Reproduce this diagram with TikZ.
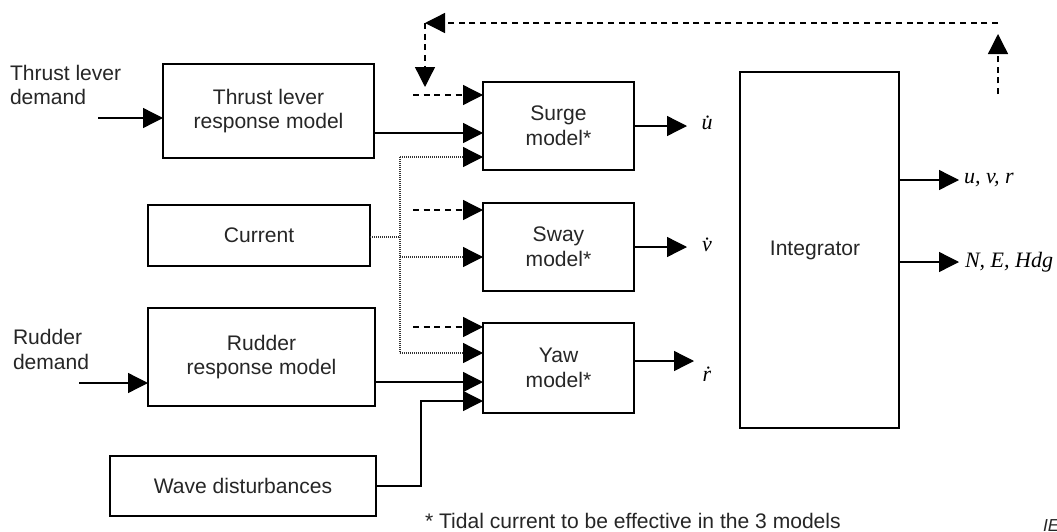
\documentclass[tikz,border=0pt]{standalone}
\usepackage{fontspec}
\setmainfont{Liberation Sans}
\newfontfamily\serifit{Liberation Serif}
\usetikzlibrary{arrows.meta,calc}
\begin{document}
\begin{tikzpicture}[x=0.75pt,y=-0.75pt,
  font=\fontsize{15.8pt}{18.4pt}\selectfont,
  box/.style={draw=black, line width=1.1pt, inner sep=0pt, outer sep=0pt, align=center, text=black!85},
  lbl/.style={inner sep=0pt, outer sep=0pt, text=black!85},
  mlbl/.style={inner sep=0pt, outer sep=0pt, text=black, font=\fontsize{16.5pt}{19pt}\selectfont\serifit\itshape},
  conn/.style={line width=1pt, -{Triangle[length=15pt,width=15pt]}},
  dashconn/.style={conn, dash pattern=on 4.5pt off 3.5pt},
  dotline/.style={line width=1pt, dash pattern=on 0.8pt off 0.7pt, black!80},
  dotconn/.style={dotline, -{Triangle[length=15pt,width=15pt,color=black]}},
]
\useasboundingbox (0,0) rectangle (1057,532);
\fill[white] (0,0) rectangle (1057,532);

% boxes
\node[box, minimum width=211*0.75pt, minimum height=94*0.75pt] (thrust) at (268.5,111) {Thrust lever\\response model};
\node[box, minimum width=222*0.75pt, minimum height=61*0.75pt] (current) at (259,235.5) {Current};
\node[box, minimum width=227*0.75pt, minimum height=98*0.75pt] (rudder) at (261.5,357) {Rudder\\response model};
\node[box, minimum width=266*0.75pt, minimum height=60*0.75pt] (wave) at (243,486) {Wave disturbances};
\node[box, minimum width=151*0.75pt, minimum height=88*0.75pt] (surge) at (558.5,126) {Surge\\model*};
\node[box, minimum width=151*0.75pt, minimum height=88*0.75pt] (sway) at (558.5,247) {Sway\\model*};
\node[box, minimum width=151*0.75pt, minimum height=90*0.75pt] (yaw) at (558.5,368) {Yaw\\model*};
\node[box, minimum width=159*0.75pt, minimum height=356*0.75pt] (integ) at (819.5,250) {};
\node[lbl] (integtxt) at (815,250) {Integrator};

% external labels
\node[lbl, anchor=west, align=left] (tdem) at (10,85) {Thrust lever\\demand};
\node[lbl, anchor=west, align=left] (rdem) at (13,349.5) {Rudder\\demand};

% demand inputs
\coordinate (tdin) at (98,118);
\coordinate (rdin) at (79,383);
\draw[conn] (tdin) -- (tdin -| thrust.west);
\draw[conn] (rdin) -- (rdin -| rudder.west);

% level coordinates
\coordinate (sD) at (413,95);
\coordinate (sT) at (440,133);
\coordinate (jtop) at (400,157);
\coordinate (j) at (400,237);
\coordinate (wD) at (413,210);
\coordinate (wC) at (400,257);
\coordinate (yD) at (413,327);
\coordinate (jbot) at (400,353);
\coordinate (yR) at (440,382);
\coordinate (wv) at (421,401);

% thrust -> surge
\draw[conn] (thrust.east |- sT) -- (sT -| surge.west);
% rudder -> yaw
\draw[conn] (rudder.east |- yR) -- (yR -| yaw.west);
% wave -> yaw
\draw[conn] (wave.east) -| (wv) -- (wv -| yaw.west);

% current distribution (dotted)
\draw[dotline] (current.east |- j) -- (j);
\draw[dotline] (jtop) -- (jbot);
\draw[dotconn] (jtop) -- (jtop -| surge.west);
\draw[dotconn] (wC) -- (wC -| sway.west);
\draw[dotconn] (jbot) -- (jbot -| yaw.west);

% dashed tidal inputs
\draw[dashconn] (sD) -- (sD -| surge.west);
\draw[dashconn] (wD) -- (wD -| sway.west);
\draw[dashconn] (yD) -- (yD -| yaw.west);

% feedback dashed loop
\coordinate (fbR1) at (998,94);
\coordinate (fbR2) at (998,34);
\coordinate (fbTR) at (998,23);
\coordinate (fbTL) at (425,23);
\coordinate (fbD) at (425,87);
\draw[dashconn] (fbR1) -- (fbR2);
\draw[dashconn] (fbTR) -- (fbTL);
\draw[dashconn] (fbTL) -- (fbD);

% model outputs
\coordinate (uo) at (687,126);
\coordinate (vo) at (687,247);
\coordinate (ro) at (694,361);
\draw[conn] (surge.east) -- (uo);
\draw[conn] (sway.east) -- (vo);
\draw[conn] (yaw.east |- ro) -- (ro);
\node[mlbl] (ud) at (707,123) {\.{u}};
\node[mlbl] (vd) at (707,245) {\.{v}};
\node[mlbl] (rd) at (707,374) {\.{r}};

% integrator outputs
\coordinate (o1) at (959,180);
\coordinate (o2) at (959,262);
\draw[conn] (integ.east |- o1) -- (o1);
\draw[conn] (integ.east |- o2) -- (o2);
\node[mlbl, anchor=west] (out1) at (964,180) {u, v, r};
\node[mlbl, anchor=west] (out2) at (965,262) {N, E, Hdg};

% footnote
\node[lbl, anchor=west] (foot) at (425,521) {* Tidal current to be effective in the 3 models};
\node[lbl, anchor=west, font=\fontsize{13pt}{15pt}\selectfont\itshape] (iec) at (1043,526) {IE};
\end{tikzpicture}
\end{document}
